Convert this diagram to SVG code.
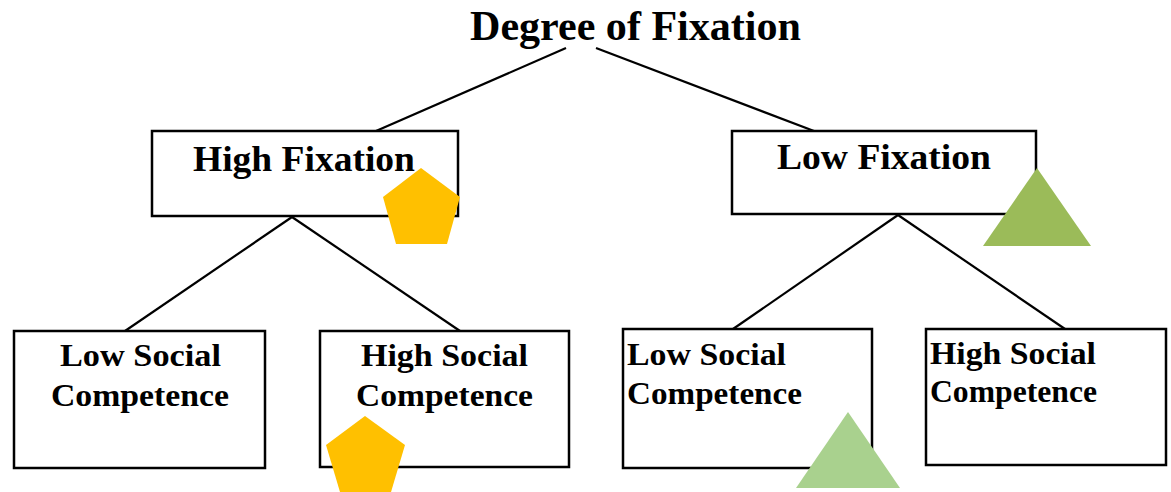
<svg xmlns="http://www.w3.org/2000/svg" width="1171" height="492" viewBox="0 0 1171 492">
<style>
.box{fill:#fff;stroke:#000;stroke-width:2.5}
.t{font-family:"Liberation Serif","Times New Roman",serif;font-weight:bold;fill:#000}
.edge{stroke:#000;stroke-width:2.2;fill:none}
.pent{fill:#FFC000}
</style>
<rect width="1171" height="492" fill="#fff"/>
<g id="title">
<text class="t" x="470" y="40" font-size="43" textLength="331" lengthAdjust="spacingAndGlyphs">Degree of Fixation</text>
</g>
<g id="connectors">
<line class="edge" x1="566" y1="48" x2="376" y2="131"/>
<line class="edge" x1="596" y1="48" x2="814" y2="131"/>
<line class="edge" x1="292" y1="217" x2="125" y2="331"/>
<line class="edge" x1="292" y1="217" x2="460" y2="331"/>
<line class="edge" x1="898" y1="215" x2="733" y2="329"/>
<line class="edge" x1="898" y1="215" x2="1065" y2="329"/>
</g>
<g id="high-fixation">
<rect class="box" x="152" y="131" width="306" height="85"/>
<text class="t" x="193" y="171" font-size="35" textLength="222" lengthAdjust="spacingAndGlyphs">High Fixation</text>
</g>
<g id="low-fixation">
<rect class="box" x="732" y="131" width="304" height="83"/>
<text class="t" x="777" y="169" font-size="35" textLength="214" lengthAdjust="spacingAndGlyphs">Low Fixation</text>
</g>
<g id="hf-low-social">
<rect class="box" x="14" y="331" width="251" height="137"/>
<text class="t" x="60" y="366" font-size="32" textLength="161" lengthAdjust="spacingAndGlyphs">Low Social</text>
<text class="t" x="51" y="406" font-size="32" textLength="178" lengthAdjust="spacingAndGlyphs">Competence</text>
</g>
<g id="hf-high-social">
<rect class="box" x="320" y="331" width="249" height="136"/>
<text class="t" x="361" y="366" font-size="32" textLength="167" lengthAdjust="spacingAndGlyphs">High Social</text>
<text class="t" x="356" y="406" font-size="32" textLength="177" lengthAdjust="spacingAndGlyphs">Competence</text>
</g>
<g id="lf-low-social">
<rect class="box" x="623" y="329" width="249" height="139"/>
<text class="t" x="627" y="365" font-size="32" textLength="159" lengthAdjust="spacingAndGlyphs">Low Social</text>
<text class="t" x="627" y="404" font-size="32" textLength="175" lengthAdjust="spacingAndGlyphs">Competence</text>
</g>
<g id="lf-high-social">
<rect class="box" x="926" y="329" width="240" height="136"/>
<text class="t" x="930" y="364" font-size="32" textLength="166" lengthAdjust="spacingAndGlyphs">High Social</text>
<text class="t" x="930" y="402" font-size="32" textLength="167" lengthAdjust="spacingAndGlyphs">Competence</text>
</g>
<g id="markers">
<polygon class="pent" points="421,168 460,197 447,244 396,244 383,197"/>
<polygon class="pent" points="365,416 405,445 391,492 340,492 326,445"/>
<polygon fill="#9BBB59" points="1037,168 1091,246 983,246"/>
<polygon fill="#A9D18E" points="848,412 900,488 796,488"/>
</g>
</svg>
